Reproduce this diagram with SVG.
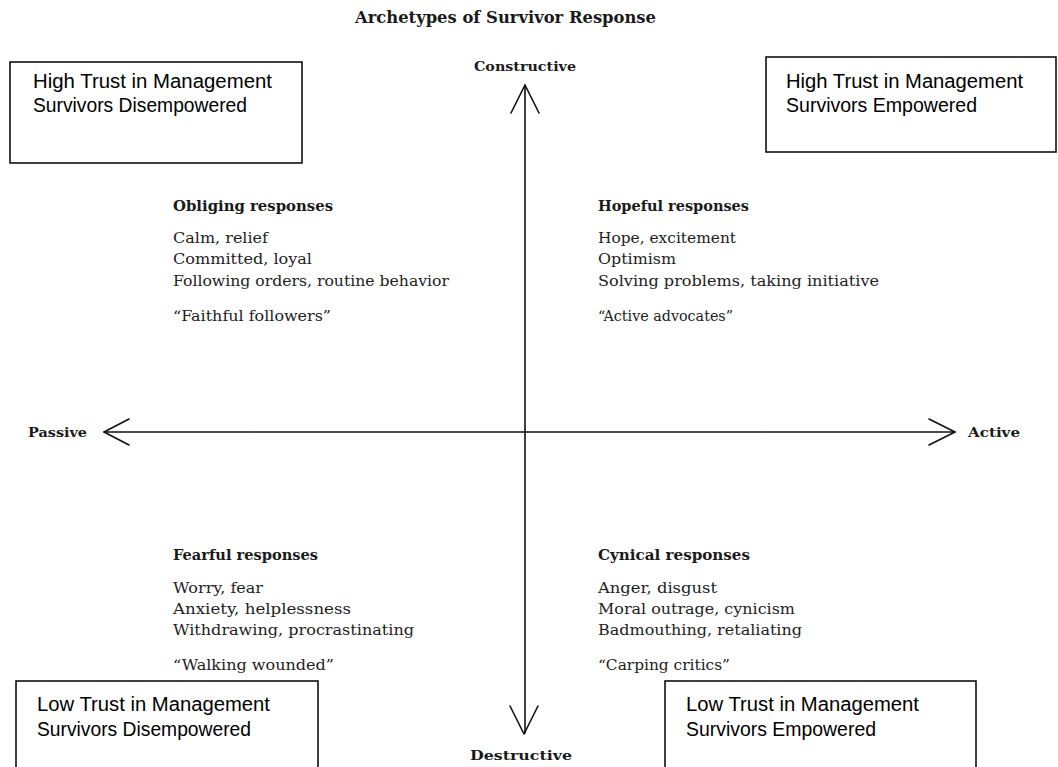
<svg xmlns="http://www.w3.org/2000/svg" width="1058" height="767" viewBox="0 0 1058 767">
<style>
.bg{fill:#ffffff}
.box{fill:#ffffff;stroke:#000000;stroke-width:1.5}
.bt{font-family:"Liberation Sans",Arial,sans-serif;font-size:20px;fill:#000000}
.title{font-family:"DejaVu Serif","Liberation Serif",serif;font-size:16.5px;font-weight:bold;fill:#1a1a1a}
.ax{font-family:"DejaVu Serif","Liberation Serif",serif;font-size:13.5px;font-weight:bold;fill:#1a1a1a}
.hd{font-family:"DejaVu Serif","Liberation Serif",serif;font-size:15px;font-weight:bold;fill:#1a1a1a}
.tx{font-family:"DejaVu Serif","Liberation Serif",serif;font-size:15.5px;fill:#222222}
.axis{fill:none;stroke:#111111;stroke-width:1.6;stroke-linecap:round;stroke-linejoin:round}
</style>
<rect class="bg" x="0" y="0" width="1058" height="767"/>
<text id="title" class="title" x="355" y="23" textLength="301" lengthAdjust="spacingAndGlyphs">Archetypes of Survivor Response</text>

<g id="connectors">
<line class="axis" x1="525" y1="85" x2="525" y2="733"/>
<polyline class="axis" points="511,113 525,85 539,113"/>
<polyline class="axis" points="510,706 524,734 538,706"/>
<line class="axis" x1="104" y1="432" x2="955" y2="432"/>
<polyline class="axis" points="129,419 104,432 129,445"/>
<polyline class="axis" points="929,419 955,432 929,445"/>
</g>

<g id="axis-constructive"><text class="ax" x="474" y="71" textLength="102" lengthAdjust="spacingAndGlyphs">Constructive</text></g>
<g id="axis-destructive"><text class="ax" x="470" y="760" textLength="102" lengthAdjust="spacingAndGlyphs">Destructive</text></g>
<g id="axis-passive"><text class="ax" x="28" y="437" textLength="59" lengthAdjust="spacingAndGlyphs">Passive</text></g>
<g id="axis-active"><text class="ax" x="968" y="437" textLength="52" lengthAdjust="spacingAndGlyphs">Active</text></g>

<g id="box-high-disempowered">
<rect class="box" x="10" y="62" width="292" height="101"/>
<text class="bt" x="33" y="88" textLength="239" lengthAdjust="spacingAndGlyphs">High Trust in Management</text>
<text class="bt" x="33" y="112" textLength="214" lengthAdjust="spacingAndGlyphs">Survivors Disempowered</text>
</g>
<g id="box-high-empowered">
<rect class="box" x="766" y="57" width="290" height="95"/>
<text class="bt" x="786" y="88" textLength="237" lengthAdjust="spacingAndGlyphs">High Trust in Management</text>
<text class="bt" x="786" y="112" textLength="191" lengthAdjust="spacingAndGlyphs">Survivors Empowered</text>
</g>
<g id="box-low-disempowered">
<rect class="box" x="16" y="681" width="302" height="100"/>
<text class="bt" x="37" y="711" textLength="233" lengthAdjust="spacingAndGlyphs">Low Trust in Management</text>
<text class="bt" x="37" y="736" textLength="214" lengthAdjust="spacingAndGlyphs">Survivors Disempowered</text>
</g>
<g id="box-low-empowered">
<rect class="box" x="665" y="681" width="311" height="100"/>
<text class="bt" x="686" y="711" textLength="233" lengthAdjust="spacingAndGlyphs">Low Trust in Management</text>
<text class="bt" x="686" y="736" textLength="190" lengthAdjust="spacingAndGlyphs">Survivors Empowered</text>
</g>

<g id="obliging">
<text class="hd" x="173" y="211" textLength="160" lengthAdjust="spacingAndGlyphs">Obliging responses</text>
<text class="tx" x="173" y="243" textLength="95" lengthAdjust="spacingAndGlyphs">Calm, relief</text>
<text class="tx" x="173" y="264" textLength="139" lengthAdjust="spacingAndGlyphs">Committed, loyal</text>
<text class="tx" x="173" y="286" textLength="276" lengthAdjust="spacingAndGlyphs">Following orders, routine behavior</text>
<text class="tx" x="173" y="321" textLength="158" lengthAdjust="spacingAndGlyphs">“Faithful followers”</text>
</g>
<g id="hopeful">
<text class="hd" x="598" y="211" textLength="151" lengthAdjust="spacingAndGlyphs">Hopeful responses</text>
<text class="tx" x="598" y="243" textLength="138" lengthAdjust="spacingAndGlyphs">Hope, excitement</text>
<text class="tx" x="598" y="264" textLength="78" lengthAdjust="spacingAndGlyphs">Optimism</text>
<text class="tx" x="598" y="286" textLength="281" lengthAdjust="spacingAndGlyphs">Solving problems, taking initiative</text>
<text class="tx" x="598" y="321" textLength="135" lengthAdjust="spacingAndGlyphs">“Active advocates”</text>
</g>
<g id="fearful">
<text class="hd" x="173" y="560" textLength="145" lengthAdjust="spacingAndGlyphs">Fearful responses</text>
<text class="tx" x="173" y="593" textLength="90" lengthAdjust="spacingAndGlyphs">Worry, fear</text>
<text class="tx" x="173" y="614" textLength="178" lengthAdjust="spacingAndGlyphs">Anxiety, helplessness</text>
<text class="tx" x="173" y="635" textLength="241" lengthAdjust="spacingAndGlyphs">Withdrawing, procrastinating</text>
<text class="tx" x="173" y="670" textLength="161" lengthAdjust="spacingAndGlyphs">“Walking wounded”</text>
</g>
<g id="cynical">
<text class="hd" x="598" y="560" textLength="152" lengthAdjust="spacingAndGlyphs">Cynical responses</text>
<text class="tx" x="598" y="593" textLength="119" lengthAdjust="spacingAndGlyphs">Anger, disgust</text>
<text class="tx" x="598" y="614" textLength="197" lengthAdjust="spacingAndGlyphs">Moral outrage, cynicism</text>
<text class="tx" x="598" y="635" textLength="204" lengthAdjust="spacingAndGlyphs">Badmouthing, retaliating</text>
<text class="tx" x="598" y="670" textLength="132" lengthAdjust="spacingAndGlyphs">“Carping critics”</text>
</g>
</svg>
